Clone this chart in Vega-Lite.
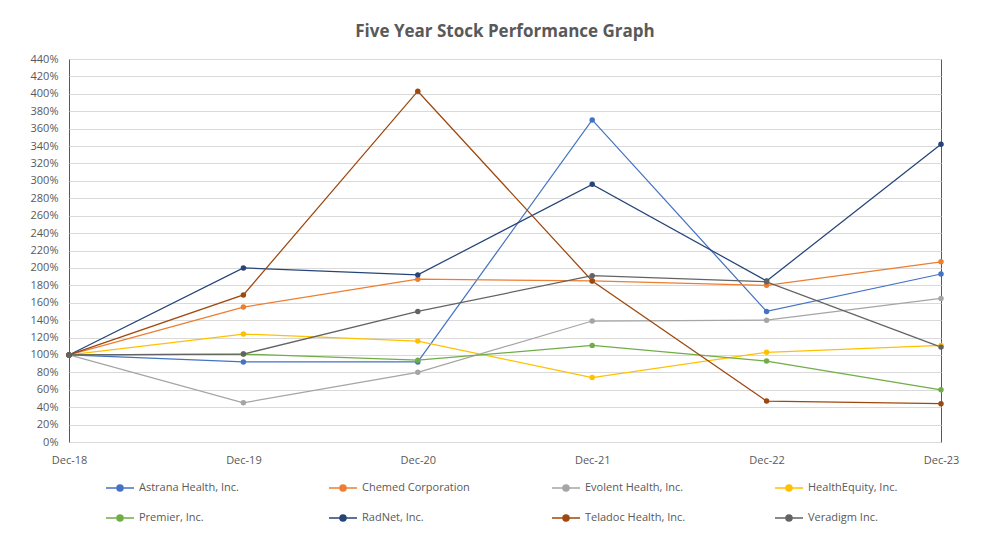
{
  "$schema": "https://vega.github.io/schema/vega-lite/v6.json",
  "width": 872,
  "height": 383,
  "autosize": "none",
  "padding": {"left": 69, "top": 59, "right": 60, "bottom": 98},
  "background": "white",
  "title": {
    "text": "Five Year Stock Performance Graph",
    "font": "Open Sans",
    "fontSize": 17,
    "fontWeight": "bold",
    "color": "#595959",
    "offset": 12
  },
  "data": {
    "values": [
      {"company": "Astrana Health, Inc.", "date": "Dec-18", "value": 1.00},
      {"company": "Astrana Health, Inc.", "date": "Dec-19", "value": 0.92},
      {"company": "Astrana Health, Inc.", "date": "Dec-20", "value": 0.92},
      {"company": "Astrana Health, Inc.", "date": "Dec-21", "value": 3.70},
      {"company": "Astrana Health, Inc.", "date": "Dec-22", "value": 1.50},
      {"company": "Astrana Health, Inc.", "date": "Dec-23", "value": 1.93},
      {"company": "Chemed Corporation", "date": "Dec-18", "value": 1.00},
      {"company": "Chemed Corporation", "date": "Dec-19", "value": 1.55},
      {"company": "Chemed Corporation", "date": "Dec-20", "value": 1.87},
      {"company": "Chemed Corporation", "date": "Dec-21", "value": 1.85},
      {"company": "Chemed Corporation", "date": "Dec-22", "value": 1.80},
      {"company": "Chemed Corporation", "date": "Dec-23", "value": 2.07},
      {"company": "Evolent Health, Inc.", "date": "Dec-18", "value": 1.00},
      {"company": "Evolent Health, Inc.", "date": "Dec-19", "value": 0.45},
      {"company": "Evolent Health, Inc.", "date": "Dec-20", "value": 0.80},
      {"company": "Evolent Health, Inc.", "date": "Dec-21", "value": 1.39},
      {"company": "Evolent Health, Inc.", "date": "Dec-22", "value": 1.40},
      {"company": "Evolent Health, Inc.", "date": "Dec-23", "value": 1.65},
      {"company": "HealthEquity, Inc.", "date": "Dec-18", "value": 1.00},
      {"company": "HealthEquity, Inc.", "date": "Dec-19", "value": 1.24},
      {"company": "HealthEquity, Inc.", "date": "Dec-20", "value": 1.16},
      {"company": "HealthEquity, Inc.", "date": "Dec-21", "value": 0.74},
      {"company": "HealthEquity, Inc.", "date": "Dec-22", "value": 1.03},
      {"company": "HealthEquity, Inc.", "date": "Dec-23", "value": 1.11},
      {"company": "Premier, Inc.", "date": "Dec-18", "value": 1.00},
      {"company": "Premier, Inc.", "date": "Dec-19", "value": 1.01},
      {"company": "Premier, Inc.", "date": "Dec-20", "value": 0.94},
      {"company": "Premier, Inc.", "date": "Dec-21", "value": 1.11},
      {"company": "Premier, Inc.", "date": "Dec-22", "value": 0.93},
      {"company": "Premier, Inc.", "date": "Dec-23", "value": 0.60},
      {"company": "RadNet, Inc.", "date": "Dec-18", "value": 1.00},
      {"company": "RadNet, Inc.", "date": "Dec-19", "value": 2.00},
      {"company": "RadNet, Inc.", "date": "Dec-20", "value": 1.92},
      {"company": "RadNet, Inc.", "date": "Dec-21", "value": 2.96},
      {"company": "RadNet, Inc.", "date": "Dec-22", "value": 1.85},
      {"company": "RadNet, Inc.", "date": "Dec-23", "value": 3.42},
      {"company": "Teladoc Health, Inc.", "date": "Dec-18", "value": 1.00},
      {"company": "Teladoc Health, Inc.", "date": "Dec-19", "value": 1.69},
      {"company": "Teladoc Health, Inc.", "date": "Dec-20", "value": 4.03},
      {"company": "Teladoc Health, Inc.", "date": "Dec-21", "value": 1.85},
      {"company": "Teladoc Health, Inc.", "date": "Dec-22", "value": 0.47},
      {"company": "Teladoc Health, Inc.", "date": "Dec-23", "value": 0.44},
      {"company": "Veradigm Inc.", "date": "Dec-18", "value": 1.00},
      {"company": "Veradigm Inc.", "date": "Dec-19", "value": 1.01},
      {"company": "Veradigm Inc.", "date": "Dec-20", "value": 1.50},
      {"company": "Veradigm Inc.", "date": "Dec-21", "value": 1.91},
      {"company": "Veradigm Inc.", "date": "Dec-22", "value": 1.84},
      {"company": "Veradigm Inc.", "date": "Dec-23", "value": 1.09}
    ]
  },
  "encoding": {
    "x": {
      "field": "date",
      "type": "ordinal",
      "sort": null,
      "scale": {"type": "point", "padding": 0},
      "axis": {
        "title": null,
        "labelAngle": 0,
        "ticks": false,
        "domain": false,
        "grid": false,
        "labelPadding": 12
      }
    },
    "y": {
      "field": "value",
      "type": "quantitative",
      "scale": {"domain": [0, 4.4], "nice": false},
      "axis": {
        "title": null,
        "format": ".0%",
        "values": [0, 0.2, 0.4, 0.6, 0.8, 1.0, 1.2, 1.4, 1.6, 1.8, 2.0, 2.2, 2.4, 2.6, 2.8, 3.0, 3.2, 3.4, 3.6, 3.8, 4.0, 4.2, 4.4],
        "ticks": false,
        "domain": false,
        "labelPadding": 11,
        "gridColor": "#D9D9D9",
        "gridWidth": 1
      }
    },
    "color": {
      "field": "company",
      "type": "nominal",
      "sort": null,
      "scale": {
        "domain": ["Astrana Health, Inc.", "Chemed Corporation", "Evolent Health, Inc.", "HealthEquity, Inc.", "Premier, Inc.", "RadNet, Inc.", "Teladoc Health, Inc.", "Veradigm Inc."],
        "range": ["#4472C4", "#ED7D31", "#A5A5A5", "#FFC000", "#70AD47", "#264478", "#9E480E", "#636363"]
      },
      "legend": {
        "title": null,
        "orient": "none",
        "legendX": 36,
        "legendY": 414,
        "direction": "horizontal",
        "columns": 4,
        "gridAlign": "all",
        "columnPadding": 79,
        "rowPadding": 9,
        "padding": 0,
        "symbolType": "M-1,0H1M-0.214,0A0.214,0.214,0,1,1,0.214,0A0.214,0.214,0,1,1,-0.214,0Z",
        "symbolSize": 784,
        "symbolStrokeWidth": 1.5,
        "labelOffset": 4,
        "labelFont": "Open Sans",
        "labelFontSize": 11,
        "labelColor": "#595959",
        "encode": {
          "symbols": {
            "update": {
              "fill": {"scale": "color", "field": "value"},
              "stroke": {"scale": "color", "field": "value"},
              "opacity": {"value": 1}
            }
          }
        }
      }
    }
  },
  "layer": [
    {
      "mark": {"type": "line", "strokeWidth": 1.25}
    },
    {
      "mark": {"type": "point", "filled": true, "size": 30, "opacity": 1}
    }
  ],
  "config": {
    "view": {"stroke": "#595959", "strokeWidth": 1},
    "axis": {
      "labelFont": "Open Sans",
      "labelFontSize": 11,
      "labelColor": "#595959"
    }
  }
}
